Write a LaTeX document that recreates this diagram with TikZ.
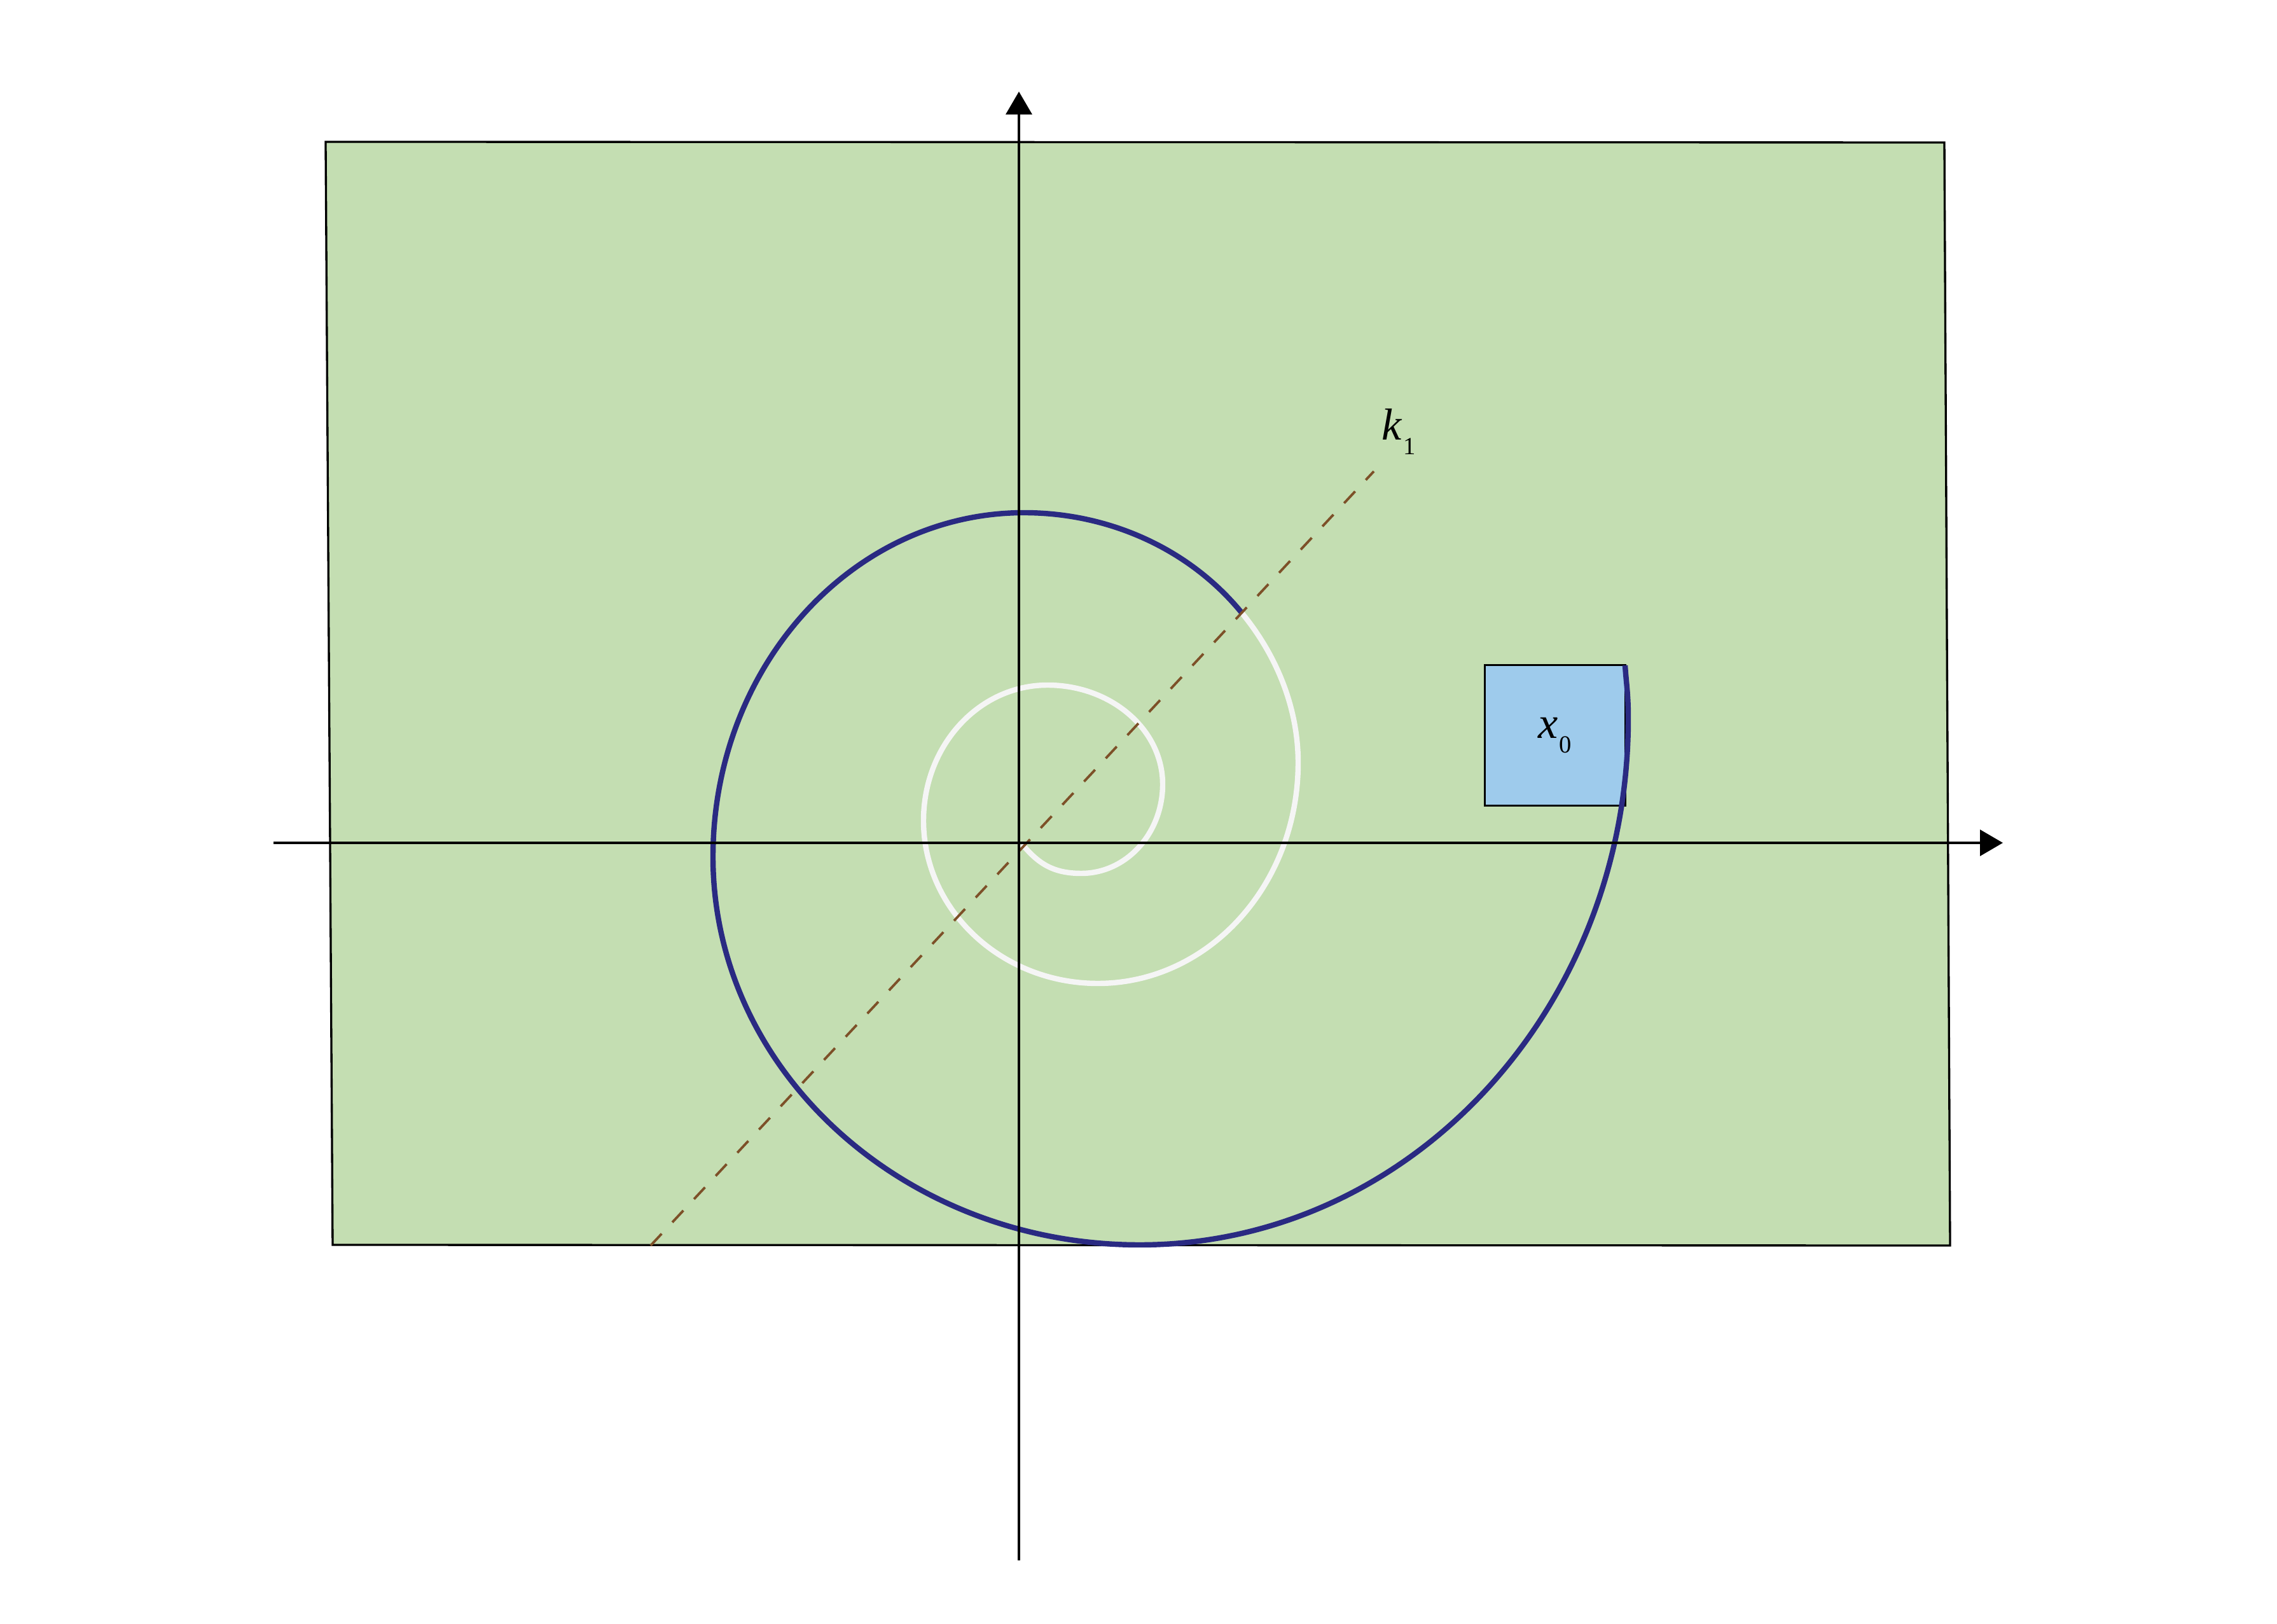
\documentclass[tikz,border=0pt]{standalone}
\usepackage{fontspec}
\setmainfont{Liberation Serif}
\usetikzlibrary{arrows.meta,positioning}
\definecolor{regiongreen}{RGB}{196,222,178}
\definecolor{boxblue}{RGB}{158,203,236}
\definecolor{spiralblue}{RGB}{42,42,130}
\definecolor{spiralwhite}{RGB}{245,245,245}
\definecolor{raybrown}{RGB}{125,80,40}
\tikzset{
  axisline/.style={line width=1.05pt, -{Triangle[length=3.6mm,width=4.1mm]}},
  region/.style={draw, line width=0.95pt, fill=regiongreen},
  startbox/.style={rectangle, draw, line width=0.95pt, fill=boxblue,
    minimum size=2.21cm, inner sep=0pt},
  whiteturn/.style={draw=spiralwhite, line width=2.4pt},
  blueturn/.style={draw=spiralblue, line width=2.4pt},
  rayline/.style={draw=raybrown, line width=1.1pt, dash pattern=on 7.2pt off 7pt}
}
\newcommand{\sublabel}[2]{\textit{#1}\kern0.5pt\raisebox{-6.5pt}{\fontsize{11pt}{11pt}\selectfont #2}}

\begin{document}
\begin{tikzpicture}[
    x=1cm, y=1cm,
    lab/.style={font=\fontsize{20pt}{24pt}\selectfont, inner sep=0pt}
]
\useasboundingbox (-16.02,-12.27) rectangle (19.78,13.25);

% region
\coordinate (nw) at (-10.90,11.02);
\coordinate (ne) at (14.55,11.01);
\coordinate (se) at (14.64,-6.33);
\coordinate (sw) at (-10.79,-6.32);
\draw[region] (nw) -- (ne) -- (se) -- (sw) -- cycle;

% start box
\node[startbox, lab] (x0) at (8.43,1.69) {\sublabel{x}{0}};

% spiral points
\coordinate (s0) at (0.05,-0.02);
\coordinate (s1) at (0.98,-0.48);
\coordinate (s2) at (2.26,0.92);
\coordinate (s3) at (0.45,2.48);
\coordinate (s4) at (-1.50,0.35);
\coordinate (s5) at (1.24,-2.21);
\coordinate (s6) at (4.39,1.26);
\coordinate (sj) at (3.50,3.62);
\coordinate (s7) at (0.08,5.19);
\coordinate (s8) at (-4.81,-0.22);
\coordinate (s9) at (1.90,-6.32);
\coordinate (s10) at (9.58,1.95);
\coordinate (s11) at (9.53,2.79);

% spiral
\draw[whiteturn] (s0) .. controls +(0.25,-0.30) and +(-0.45,0) .. (s1)
  .. controls +(0.71,0) and +(0,-0.77) .. (s2)
  .. controls +(0,0.86) and +(1.00,0) .. (s3)
  .. controls +(-1.08,0) and +(0,1.18) .. (s4)
  .. controls +(0,-1.41) and +(-1.51,0) .. (s5)
  .. controls +(1.74,0) and +(0,-1.92) .. (s6)
  .. controls +(0,0.85) and +(0.56,-0.68) .. (sj);
\draw[blueturn] (sj) .. controls +(-0.81,0.99) and +(1.35,0) .. (s7)
  .. controls +(-2.70,0) and +(0,2.99) .. (s8)
  .. controls +(0,-3.37) and +(-3.70,0) .. (s9)
  .. controls +(4.24,0) and +(0,-4.57) .. (s10)
  .. controls +(0,0.40) and +(0.02,-0.30) .. (s11);

% ray
\coordinate (kbot) at (-5.79,-6.33);
\coordinate (ktop) at (5.58,5.84);
\draw[rayline] (kbot) -- (ktop);
\node[lab, anchor=base west] (k1) at (5.70,6.33) {\sublabel{k}{1}};

% axes
\coordinate (xl) at (-11.72,0);
\coordinate (xr) at (15.47,0);
\coordinate (yb) at (0,-11.28);
\coordinate (yt) at (0,11.81);
\draw[axisline] (xl) -- (xr);
\draw[axisline] (yb) -- (yt);

\end{tikzpicture}
\end{document}
